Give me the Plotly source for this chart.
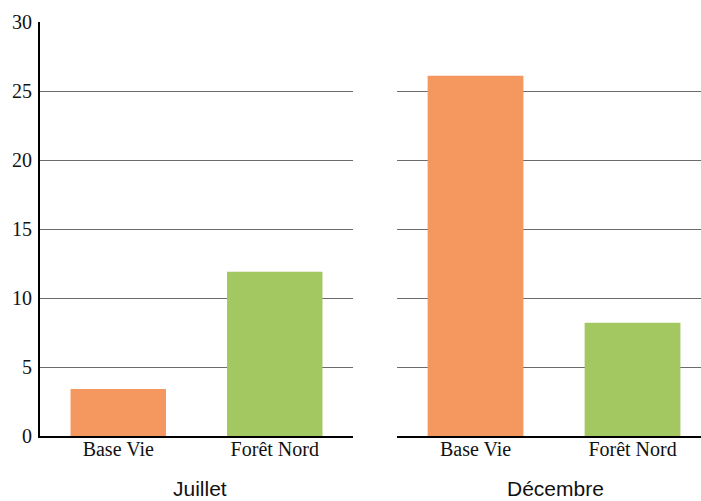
import plotly.graph_objects as go

categories = ["Base Vie", "Forêt Nord"]
panels = ["Juillet", "Décembre"]
juillet_values = [3.4, 11.9]
decembre_values = [26.1, 8.2]
bar_colors = ["#F4985F", "#A3C862"]
y_ticks = [0, 5, 10, 15, 20, 25, 30]

fig = go.Figure()
fig.add_trace(go.Bar(x=categories, y=juillet_values, marker=dict(color=bar_colors, line=dict(width=0)),
                     xaxis="x", yaxis="y", showlegend=False))
fig.add_trace(go.Bar(x=categories, y=decembre_values, marker=dict(color=bar_colors, line=dict(width=0)),
                     xaxis="x2", yaxis="y2", showlegend=False))

serif = "Liberation Serif, Times New Roman, serif"
sans = "Liberation Sans, Arial, sans-serif"
W, H, L = 701, 501, 40
plot_w = W - L
grid = "#6b6b6b"

common_x = dict(showline=True, linecolor="black", linewidth=2, ticks="", showgrid=False,
                ticklabelstandoff=-6,
                tickfont=dict(family=serif, size=20, color="#111"), fixedrange=True)
common_y = dict(range=[0, 30], tickvals=y_ticks, showgrid=True, gridcolor=grid, gridwidth=1,
                zeroline=False, ticks="")

fig.update_layout(
    width=W, height=H,
    margin=dict(l=L, r=0, t=22, b=65),
    plot_bgcolor="white", paper_bgcolor="white",
    bargap=0.39,
    xaxis=dict(domain=[0, 313 / plot_w], range=[-0.5, 1.5], anchor="y", **common_x),
    xaxis2=dict(domain=[357 / plot_w, 1], range=[-0.5, 1.436], anchor="y2", **common_x),
    yaxis=dict(anchor="x", showline=True, linecolor="black", linewidth=2, ticklabelstandoff=2,
               tickfont=dict(family=serif, size=20, color="#111"), **common_y),
    yaxis2=dict(anchor="x2", matches="y", showline=False, showticklabels=False, **common_y),
    annotations=[
        dict(text=panels[0], xref="x", x=0.52, yref="paper", y=0, yshift=-52, yanchor="middle",
             showarrow=False, font=dict(family=sans, size=21, color="#111")),
        dict(text=panels[1], xref="x2", x=0.51, yref="paper", y=0, yshift=-52, yanchor="middle",
             showarrow=False, font=dict(family=sans, size=21, color="#111")),
    ],
)

fig.write_html("out.html", config={"displayModeBar": False},
               post_script="document.body.style.margin='0';document.body.style.overflow='hidden';")
